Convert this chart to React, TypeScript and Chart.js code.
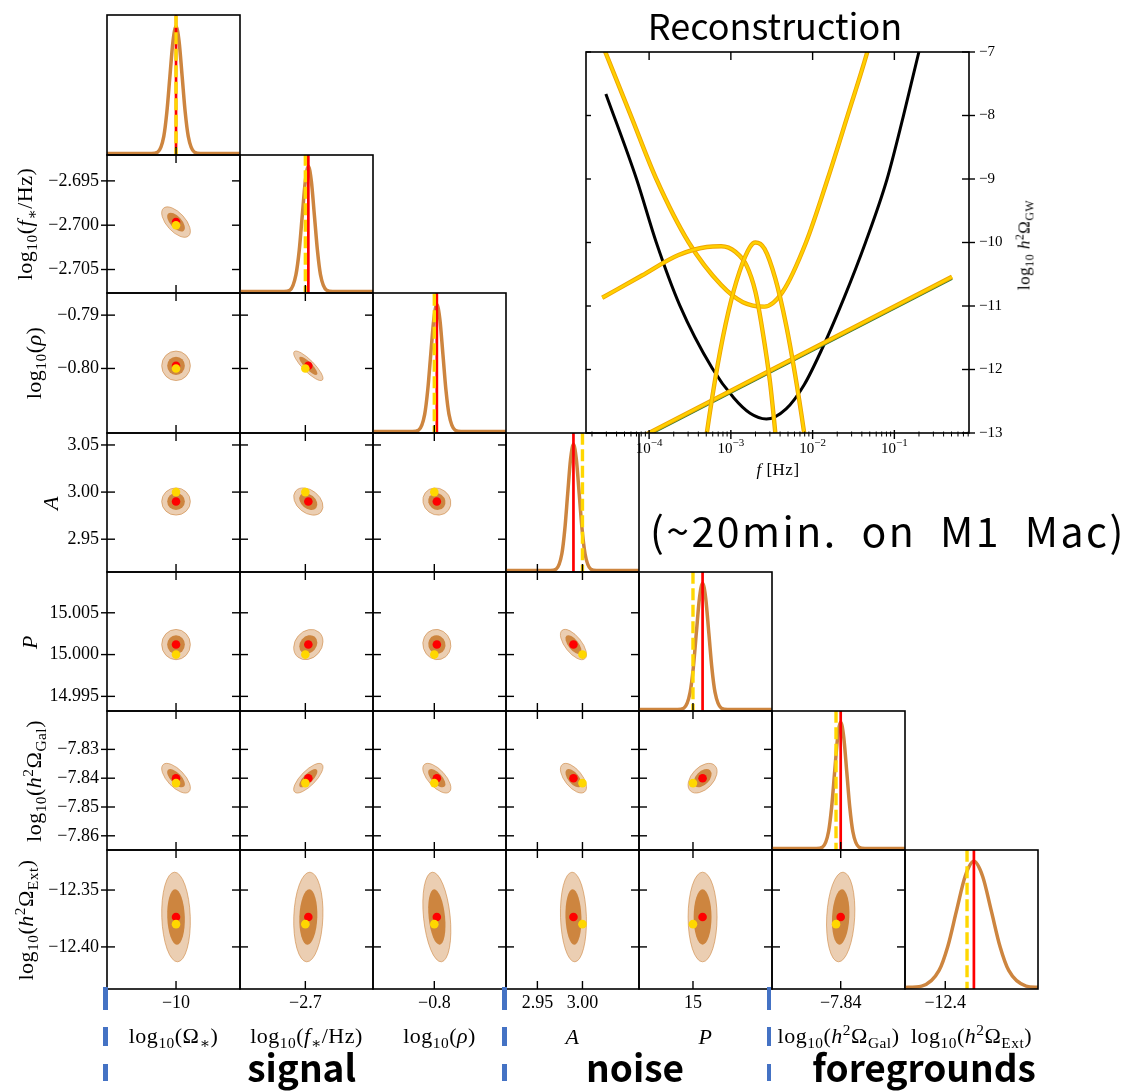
import React, { useEffect, useRef } from "react";
import { Chart, registerables } from "chart.js";

Chart.register(...registerables);

// ---------------------------------------------------------------------------
// Parameter order: log10(Ω*), log10(f*/Hz), log10(ρ), A, P, log10(h²Ω_Gal), log10(h²Ω_Ext)
// ---------------------------------------------------------------------------
const injectedValues = [-10.0, -2.7, -0.8, 3.0, 15.0, -7.8417, -12.38];
const recoveredValues = [-10.0, -2.69965, -0.7995, 2.99, 15.0012, -7.84, -12.3737];
const posteriorSigmas = [0.0044, 0.0007, 0.00113, 0.0059, 0.00074, 0.0021, 0.0161];
// correlation coefficient of (row parameter, column parameter) for the lower triangle
const correlations = [
  [],
  [-0.6],
  [0.0, -0.85],
  [0.0, -0.35, -0.1],
  [0.0, 0.2, -0.05, -0.65],
  [-0.65, 0.75, -0.65, -0.6, 0.45],
  [-0.1, 0.1, -0.3, -0.1, 0.0, 0.15],
];
const axisMin = [-10.0519, -2.70765, -0.8121, 2.9152, 14.99325, -7.86493, -12.437];
const axisMax = [-9.9519, -2.69208, -0.78585, 3.0627, 15.00988, -7.81667, -12.3148];

const xTickValues = [[-10], [-2.7], [-0.8], [2.95, 3.0], [15], [-7.84], [-12.4]];
const xTickLabels = [["−10"], ["−2.7"], ["−0.8"], ["2.95", "3.00"], ["15"], ["−7.84"], ["−12.4"]];
const yTickValues = [[], [-2.695, -2.7, -2.705], [-0.79, -0.8], [3.05, 3.0, 2.95], [15.005, 15.0, 14.995], [-7.83, -7.84, -7.85, -7.86], [-12.35, -12.4]];
const yTickLabels = [[], ["−2.695", "−2.700", "−2.705"], ["−0.79", "−0.80"], ["3.05", "3.00", "2.95"], ["15.005", "15.000", "14.995"], ["−7.83", "−7.84", "−7.85", "−7.86"], ["−12.35", "−12.40"]];

// 1D marginal curves (normalised to peak = 1)
const histOmegaStar = [-10.0519, -10.0184, -10.0138, -10.0092, -10.0069, -10.0046, -10.0023, -10.0, -9.9977, -9.9954, -9.9931, -9.9908, -9.9862, -9.9816, -9.9519];
const histFStar = [-2.70765, -2.7025, -2.7018, -2.7011, -2.70072, -2.70036, -2.7, -2.69965, -2.6993, -2.69894, -2.69858, -2.69823, -2.69752, -2.69681, -2.69208];
const histRho = [-0.8121, -0.8043, -0.8031, -0.8019, -0.8013, -0.8007, -0.8001, -0.7995, -0.7989, -0.7983, -0.7977, -0.7971, -0.7959, -0.7947, -0.78585];
const histA = [2.9152, 2.9644, 2.9708, 2.9772, 2.9804, 2.9836, 2.9868, 2.99, 2.9932, 2.9964, 2.9996, 3.0028, 3.0092, 3.0156, 3.0627];
const histP = [14.99325, 14.99808, 14.99886, 14.99964, 15.00003, 15.00042, 15.00081, 15.0012, 15.00159, 15.00198, 15.00237, 15.00276, 15.00354, 15.00432, 15.00988];
const histGal = [-7.86493, -7.8488, -7.8466, -7.8444, -7.8433, -7.8422, -7.8411, -7.84, -7.8389, -7.8378, -7.8367, -7.8356, -7.8334, -7.8312, -7.81667];
const histExt = [-12.437, -12.4217, -12.4057, -12.3977, -12.3897, -12.3817, -12.3737, -12.3657, -12.3577, -12.3497, -12.3417, -12.3257, -12.3148];
const narrowHeights = [0, 0, 0.011, 0.135, 0.325, 0.607, 0.882, 1, 0.882, 0.607, 0.325, 0.135, 0.011, 0, 0];
const extHeights = [0.0004, 0.011, 0.135, 0.325, 0.607, 0.882, 1, 0.882, 0.607, 0.325, 0.135, 0.011, 0.0015];
const histXs = [histOmegaStar, histFStar, histRho, histA, histP, histGal, histExt];
const histYs = [narrowHeights, narrowHeights, narrowHeights, narrowHeights, narrowHeights, narrowHeights, extHeights];

// Reconstruction panel: log10 f [Hz] vs log10 h²Ω_GW
const sensitivityLogF = [-4.529, -4.154, -3.912, -3.625, -3.228, -2.963, -2.765, -2.566, -2.324, -2.103, -1.883, -1.618, -1.353, -1.089, -0.89, -0.7, -0.6];
const sensitivityLogOmega = [-7.66, -9.0, -10.0, -10.99, -11.98, -12.45, -12.69, -12.78, -12.62, -12.24, -11.67, -10.88, -10.0, -9.0, -8.01, -7.0, -6.5];
const brokenLogF = [-4.545, -4.221, -3.912, -3.515, -3.118, -2.853, -2.588, -2.368, -2.081, -1.816, -1.574, -1.331, -1.25];
const brokenLogOmega = [-6.97, -8.01, -9.0, -10.0, -10.67, -10.94, -11.01, -10.78, -10.0, -9.0, -8.01, -7.0, -6.6];
const bumpLogF = [-4.573, -4.088, -3.647, -3.294, -3.118, -2.941, -2.809, -2.699, -2.61, -2.522, -2.456, -2.42];
const bumpLogOmega = [-10.87, -10.52, -10.2, -10.07, -10.06, -10.15, -10.36, -10.78, -11.41, -12.19, -13.0, -13.5];
const peakLogF = [-3.33, -3.294, -3.162, -3.03, -2.897, -2.765, -2.699, -2.588, -2.456, -2.324, -2.213, -2.103, -2.065];
const peakLogOmega = [-13.35, -13.0, -11.93, -11.09, -10.47, -10.07, -10.0, -10.1, -10.57, -11.3, -12.09, -13.0, -13.35];
const foregroundLogF = [-4.53, -0.295];
const foregroundReconLogOmega = [-13.35, -10.54];
const foregroundTrueLogOmega = [-13.375, -10.565];
const reconDecades = [-4, -3, -2, -1];
const reconYTicks = [-13, -12, -11, -10, -9, -8, -7];

// ---------------------------------------------------------------------------
const PERU = "#CD853F";
const GOLD = "#FFD700";
const RED = "#FF0000";
const CONTOUR_LEVELS = [0.95, 0.68];
const CONTOUR_FILLS = ["rgba(205,133,63,0.4)", "rgba(205,133,63,1)"];
const HIST_TOP = 1.09;
const TICK_IN = 8;
const TICK_OUT = 6;
const SERIF = '"Liberation Serif", "DejaVu Serif", serif';
const SANS = '"Noto Sans CJK JP", "Noto Sans", sans-serif';
const TICK_FONT = `18px ${SERIF}`;

const COL_EDGES = [107, 240, 373, 506, 639, 772, 905, 1038];
const ROW_EDGES = [15, 155, 293, 433, 572, 711, 850, 989];

type PanelSpec = {
  row: number; col: number; left: number; top: number; width: number; height: number;
  padL: number; padR: number; padT: number; padB: number;
};

const PANELS: PanelSpec[] = [];
for (let i = 0; i < 7; i++) {
  for (let j = 0; j <= i; j++) {
    const padL = j === 0 ? 100 : 10;
    const padR = 10;
    const padT = 10;
    const padB = i === 6 ? 28 : 10;
    PANELS.push({
      row: i, col: j,
      left: COL_EDGES[j] - padL, top: ROW_EDGES[i] - padT,
      width: COL_EDGES[j + 1] - COL_EDGES[j] + padL + padR,
      height: ROW_EDGES[i + 1] - ROW_EDGES[i] + padT + padB,
      padL, padR, padT, padB,
    });
  }
}

function drawLine(ctx: CanvasRenderingContext2D, x1: number, y1: number, x2: number, y2: number) {
  ctx.beginPath();
  ctx.moveTo(x1, y1);
  ctx.lineTo(x2, y2);
  ctx.stroke();
}

function cornerPanelPlugin(row: number, col: number) {
  const isHist = row === col;
  return {
    id: `corner_${row}_${col}`,
    beforeDatasetsDraw(chart: any) {
      if (isHist) return;
      const ctx: CanvasRenderingContext2D = chart.ctx;
      const xs = chart.scales.x;
      const ys = chart.scales.y;
      const mx = recoveredValues[col];
      const my = recoveredValues[row];
      const cx = xs.getPixelForValue(mx);
      const cy = ys.getPixelForValue(my);
      const sx = xs.getPixelForValue(mx + posteriorSigmas[col]) - cx;
      const sy = cy - ys.getPixelForValue(my + posteriorSigmas[row]);
      const r = correlations[row][col];
      // covariance in pixel space (y grows downward)
      const a = sx * sx, d = sy * sy, b = -r * sx * sy;
      const mid = (a + d) / 2;
      const disc = Math.sqrt(((a - d) / 2) ** 2 + b * b);
      const l1 = mid + disc;
      const l2 = Math.max(mid - disc, 1e-6);
      const theta = 0.5 * Math.atan2(2 * b, a - d);
      const area = chart.chartArea;
      ctx.save();
      ctx.beginPath();
      ctx.rect(area.left, area.top, area.right - area.left, area.bottom - area.top);
      ctx.clip();
      CONTOUR_LEVELS.forEach((lvl, idx) => {
        const k = Math.sqrt(-2 * Math.log(1 - lvl));
        ctx.beginPath();
        ctx.ellipse(cx, cy, k * Math.sqrt(l1), k * Math.sqrt(l2), theta, 0, Math.PI * 2);
        ctx.fillStyle = CONTOUR_FILLS[idx];
        ctx.fill();
        if (idx === 0) {
          ctx.strokeStyle = "rgba(205,133,63,0.6)";
          ctx.lineWidth = 1;
          ctx.stroke();
        }
      });
      ctx.restore();
    },
    afterDraw(chart: any) {
      const ctx: CanvasRenderingContext2D = chart.ctx;
      const xs = chart.scales.x;
      const ys = chart.scales.y;
      const { left, right, top, bottom } = chart.chartArea;
      ctx.save();
      ctx.strokeStyle = "#000";
      ctx.lineWidth = 1.4;
      xTickValues[col].forEach((v) => {
        const px = xs.getPixelForValue(v);
        drawLine(ctx, px, bottom, px, bottom - TICK_IN);
        if (!isHist) drawLine(ctx, px, top, px, top + TICK_IN);
      });
      if (!isHist) {
        yTickValues[row].forEach((v) => {
          const py = ys.getPixelForValue(v);
          drawLine(ctx, left - (col === 0 ? TICK_OUT : 0), py, left + TICK_IN, py);
          drawLine(ctx, right - TICK_IN, py, right, py);
        });
      }
      ctx.lineWidth = 1.6;
      ctx.strokeRect(left, top, right - left, bottom - top);
      ctx.fillStyle = "#000";
      ctx.font = TICK_FONT;
      if (row === 6) {
        ctx.textAlign = "center";
        ctx.textBaseline = "middle";
        xTickValues[col].forEach((v, k) => {
          ctx.fillText(xTickLabels[col][k], xs.getPixelForValue(v), bottom + 14);
        });
      }
      if (col === 0 && !isHist) {
        ctx.textAlign = "right";
        ctx.textBaseline = "middle";
        yTickValues[row].forEach((v, k) => {
          ctx.fillText(yTickLabels[row][k], left - 8, ys.getPixelForValue(v));
        });
      }
      ctx.restore();
    },
  };
}

function makePanelChart(canvas: HTMLCanvasElement, p: PanelSpec) {
  const i = p.row;
  const j = p.col;
  const isHist = i === j;
  const datasets: any[] = [];
  if (isHist) {
    datasets.push({
      data: histXs[j].map((x, k) => ({ x, y: histYs[j][k] })),
      showLine: true, borderColor: PERU, borderWidth: 3.5, pointRadius: 0,
      cubicInterpolationMode: "monotone", order: 3,
    });
    datasets.push({
      data: [{ x: recoveredValues[j], y: -0.05 }, { x: recoveredValues[j], y: HIST_TOP + 0.05 }],
      showLine: true, borderColor: RED, borderWidth: 2.7, pointRadius: 0, order: 2,
    });
    datasets.push({
      data: [{ x: injectedValues[j], y: -0.05 }, { x: injectedValues[j], y: HIST_TOP + 0.05 }],
      showLine: true, borderColor: GOLD, borderWidth: 3.4, borderDash: [12, 4.5], pointRadius: 0, order: 1,
    });
  } else {
    datasets.push({
      data: [{ x: recoveredValues[j], y: recoveredValues[i] }],
      pointRadius: 4.3, backgroundColor: RED, borderWidth: 0, order: 2,
    });
    datasets.push({
      data: [{ x: injectedValues[j], y: injectedValues[i] }],
      pointRadius: 4.3, backgroundColor: GOLD, borderWidth: 0, order: 1,
    });
  }
  return new Chart(canvas, {
    type: "scatter",
    data: { datasets },
    options: {
      animation: false,
      responsive: false,
      maintainAspectRatio: false,
      events: [],
      layout: { padding: { left: p.padL, right: p.padR, top: p.padT, bottom: p.padB } },
      scales: {
        x: { type: "linear", display: false, min: axisMin[j], max: axisMax[j] },
        y: {
          type: "linear", display: false,
          min: isHist ? -0.012 : axisMin[i],
          max: isHist ? HIST_TOP : axisMax[i],
        },
      },
      plugins: { legend: { display: false }, tooltip: { enabled: false } },
    },
    plugins: [cornerPanelPlugin(i, j)],
  } as any);
}

const reconFramePlugin = {
  id: "reconFrame",
  afterDraw(chart: any) {
    const ctx: CanvasRenderingContext2D = chart.ctx;
    const xs = chart.scales.x;
    const ys = chart.scales.y;
    const { left, right, top, bottom } = chart.chartArea;
    ctx.save();
    ctx.strokeStyle = "#000";
    for (let n = -5; n <= 0; n++) {
      for (let k = 1; k <= 9; k++) {
        const v = k * Math.pow(10, n);
        if (v < xs.min || v > xs.max) continue;
        const px = xs.getPixelForValue(v);
        if (k === 1) {
          ctx.lineWidth = 1.4;
          drawLine(ctx, px, bottom - 3, px, bottom + 6);
          drawLine(ctx, px, top, px, top + 8);
        } else {
          ctx.lineWidth = 1;
          drawLine(ctx, px, bottom - 1.5, px, bottom + 3.5);
        }
      }
    }
    ctx.lineWidth = 1.4;
    reconYTicks.forEach((v) => {
      const py = ys.getPixelForValue(v);
      drawLine(ctx, left, py, left + 5, py);
      drawLine(ctx, right - 7, py, right + 6, py);
    });
    ctx.lineWidth = 1.6;
    ctx.strokeRect(left, top, right - left, bottom - top);

    ctx.fillStyle = "#000";
    ctx.textBaseline = "alphabetic";
    ctx.textAlign = "left";
    reconDecades.forEach((n) => {
      const px = xs.getPixelForValue(Math.pow(10, n));
      const base = "10";
      const exp = "−" + Math.abs(n);
      ctx.font = `15px ${SERIF}`;
      const wb = ctx.measureText(base).width;
      ctx.font = `11px ${SERIF}`;
      const we = ctx.measureText(exp).width;
      const x0 = px - (wb + we) / 2;
      ctx.font = `15px ${SERIF}`;
      ctx.fillText(base, x0, bottom + 20);
      ctx.font = `11px ${SERIF}`;
      ctx.fillText(exp, x0 + wb, bottom + 13);
    });
    ctx.font = `15px ${SERIF}`;
    ctx.textBaseline = "middle";
    reconYTicks.forEach((v) => {
      ctx.fillText("−" + Math.abs(v), right + 10, ys.getPixelForValue(v));
    });
    ctx.restore();
  },
};

function curvePoints(logF: number[], logOmega: number[]) {
  return logF.map((lf, k) => ({ x: Math.pow(10, lf), y: logOmega[k] }));
}

function makeReconChart(canvas: HTMLCanvasElement) {
  const base = { showLine: true, pointRadius: 0, cubicInterpolationMode: "monotone" };
  const yellowPair = (lf: number[], lo: number[], order: number) => [
    { ...base, data: curvePoints(lf, lo), borderColor: "#EFA400", borderWidth: 4.4, order: order + 1 },
    { ...base, data: curvePoints(lf, lo), borderColor: "#FFD000", borderWidth: 2.6, order },
  ];
  const datasets: any[] = [
    { ...base, data: curvePoints(sensitivityLogF, sensitivityLogOmega), borderColor: "#000", borderWidth: 3, order: 20 },
    { ...base, data: curvePoints(foregroundLogF, foregroundTrueLogOmega), borderColor: "#2E7D32", borderWidth: 3, order: 18 },
    ...yellowPair(foregroundLogF, foregroundReconLogOmega, 16),
    ...yellowPair(brokenLogF, brokenLogOmega, 12),
    ...yellowPair(bumpLogF, bumpLogOmega, 8),
    ...yellowPair(peakLogF, peakLogOmega, 4),
  ];
  return new Chart(canvas, {
    type: "scatter",
    data: { datasets },
    options: {
      animation: false,
      responsive: false,
      maintainAspectRatio: false,
      events: [],
      layout: { padding: { left: 26, right: 165, top: 52, bottom: 62 } },
      scales: {
        x: { type: "logarithmic", display: false, min: Math.pow(10, -4.772), max: Math.pow(10, -0.087) },
        y: { type: "linear", display: false, min: -13, max: -7 },
      },
      plugins: { legend: { display: false }, tooltip: { enabled: false } },
    },
    plugins: [reconFramePlugin],
  } as any);
}

// ---------------------------------------------------------------------------
function Sub({ children }: { children: React.ReactNode }) {
  return <span style={{ fontSize: "0.7em", position: "relative", top: "0.35em" }}>{children}</span>;
}
function Sup({ children }: { children: React.ReactNode }) {
  return <span style={{ fontSize: "0.7em", position: "relative", top: "-0.5em" }}>{children}</span>;
}

const paramLabels: React.ReactNode[] = [
  <>log<Sub>10</Sub>(Ω<Sub>∗</Sub>)</>,
  <>log<Sub>10</Sub>(<i>f</i><Sub>∗</Sub>/Hz)</>,
  <>log<Sub>10</Sub>(<i>ρ</i>)</>,
  <i>A</i>,
  <i>P</i>,
  <>log<Sub>10</Sub>(<i>h</i><Sup>2</Sup>Ω<Sub>Gal</Sub>)</>,
  <>log<Sub>10</Sub>(<i>h</i><Sup>2</Sup>Ω<Sub>Ext</Sub>)</>,
];
const yLabelCenters = [0, 26, 35, 51, 30, 35, 26.5];

const labelStyle: React.CSSProperties = {
  position: "absolute",
  whiteSpace: "nowrap",
  fontFamily: SERIF,
  fontSize: 22,
  lineHeight: "24px",
  letterSpacing: "0.5px",
  color: "#000",
};

const blueDashColumns = [105.5, 504.5, 769];
const blueDashSegments = [[987, 1010], [1027, 1046], [1064, 1081]];

export default function App() {
  const panelRefs = useRef<(HTMLCanvasElement | null)[]>([]);
  const reconRef = useRef<HTMLCanvasElement | null>(null);

  useEffect(() => {
    const charts: Chart[] = [];
    PANELS.forEach((p, k) => {
      const c = panelRefs.current[k];
      if (c) charts.push(makePanelChart(c, p));
    });
    if (reconRef.current) charts.push(makeReconChart(reconRef.current));
    return () => charts.forEach((c) => c.destroy());
  }, []);

  return (
    <div style={{ position: "absolute", left: 0, top: 0, width: 1134, height: 1091, background: "#fff", overflow: "hidden" }}>
      {PANELS.map((p, k) => (
        <canvas
          key={`p${k}`}
          ref={(el) => { panelRefs.current[k] = el; }}
          width={p.width}
          height={p.height}
          style={{ position: "absolute", left: p.left, top: p.top, width: p.width, height: p.height }}
        />
      ))}
      <canvas
        ref={reconRef}
        width={574}
        height={495}
        style={{ position: "absolute", left: 560, top: 0, width: 574, height: 495 }}
      />

      {/* y-axis labels of the corner plot */}
      {[1, 2, 3, 4, 5, 6].map((i) => (
        <div
          key={`yl${i}`}
          style={{
            ...labelStyle,
            left: yLabelCenters[i],
            top: (ROW_EDGES[i] + ROW_EDGES[i + 1]) / 2,
            transform: "translate(-50%, -50%) rotate(-90deg)",
          }}
        >
          {paramLabels[i]}
        </div>
      ))}
      {/* x-axis labels of the corner plot */}
      {paramLabels.map((lab, j) => (
        <div
          key={`xl${j}`}
          style={{
            ...labelStyle,
            left: (COL_EDGES[j] + COL_EDGES[j + 1]) / 2,
            top: 1037,
            transform: "translate(-50%, -50%)",
          }}
        >
          {lab}
        </div>
      ))}

      {/* reconstruction panel texts */}
      <div style={{ position: "absolute", left: 775, top: 6, transform: "translateX(-50%)", fontFamily: SANS, fontSize: 36, lineHeight: "36px", whiteSpace: "nowrap" }}>
        Reconstruction
      </div>
      <div style={{ ...labelStyle, fontSize: 17, left: 778, top: 470, transform: "translate(-50%, -50%)" }}>
        <i>f</i> [Hz]
      </div>
      <div style={{ ...labelStyle, fontSize: 17, left: 1025, top: 245, transform: "translate(-50%, -50%) rotate(-90deg)" }}>
        log<Sub>10</Sub> <i>h</i><Sup>2</Sup>Ω<Sub>GW</Sub>
      </div>

      <div style={{ position: "absolute", left: 650, top: 509, fontFamily: SANS, fontSize: 41, lineHeight: "41px", letterSpacing: "2.5px", wordSpacing: "12px", whiteSpace: "nowrap" }}>
        (~20min. on M1 Mac)
      </div>

      {/* group captions */}
      {[
        { text: "signal", x: 301.7 },
        { text: "noise", x: 635 },
        { text: "foregrounds", x: 924 },
      ].map((g) => (
        <div
          key={g.text}
          style={{ position: "absolute", left: g.x, top: 1048, transform: "translateX(-50%)", fontFamily: SANS, fontWeight: 700, fontSize: 37, lineHeight: "37px", whiteSpace: "nowrap" }}
        >
          {g.text}
        </div>
      ))}

      {/* group separators */}
      {blueDashColumns.map((x) =>
        blueDashSegments.map(([y0, y1]) => (
          <div
            key={`${x}-${y0}`}
            style={{ position: "absolute", left: x - 2.25, top: y0, width: 4.5, height: y1 - y0, background: "#4472C4" }}
          />
        ))
      )}
    </div>
  );
}
